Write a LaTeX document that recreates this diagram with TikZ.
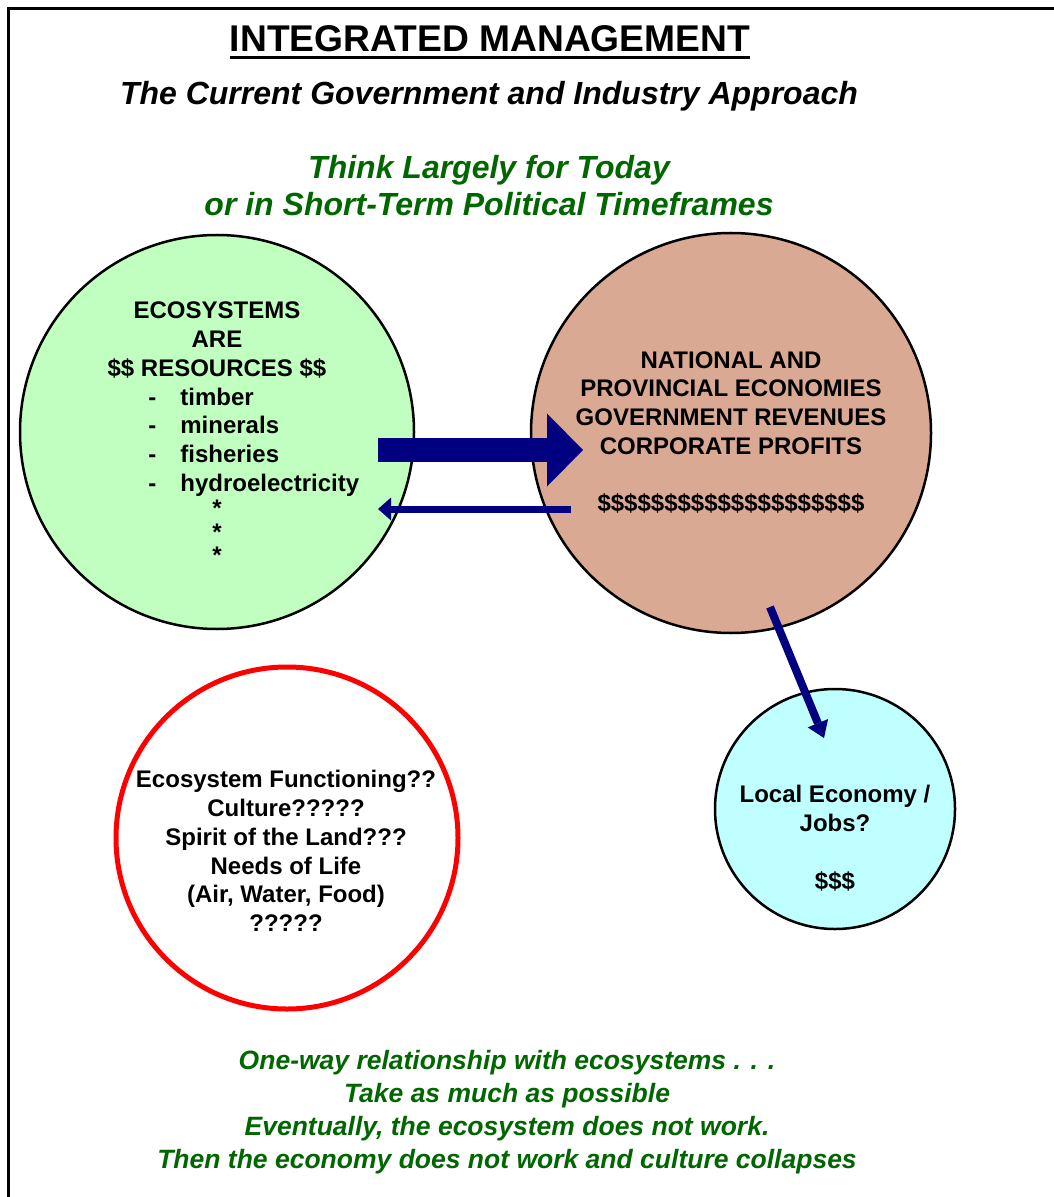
\documentclass[tikz,border=0pt]{standalone}
\usepackage{fontspec}
\setmainfont{Liberation Sans}
\usetikzlibrary{positioning, arrows.meta}
\definecolor{resgreen}{RGB}{192,255,192}
\definecolor{profitbrown}{RGB}{217,169,148}
\definecolor{jobcyan}{RGB}{192,255,255}
\definecolor{flownavy}{RGB}{0,0,128}
\definecolor{notegreen}{RGB}{0,102,0}
\definecolor{alarmred}{RGB}{255,0,0}
\tikzset{
    x=0.5pt, y=-0.5pt, % one unit is one pixel of the reference, y runs down
    pool/.style={circle, draw, line width=1.25pt, inner sep=0pt}, % the four round shapes
    caption/.style={inner sep=0pt, align=center, font=\bfseries\fontsize{12}{14.4}\selectfont}, % black text in the circles
    remark/.style={inner sep=0pt, align=center, text=notegreen, font=\bfseries\itshape\fontsize{16}{18.5}\selectfont}, % green comments
    flow/.style={draw=flownavy, fill=flownavy}, % the navy arrows
}

\begin{document}
\begin{tikzpicture}
    \useasboundingbox (0,0) rectangle (1053,1197);
    \draw[line width=1.5pt] (8,1220) |- (1080,9); % page frame

    \node[inner sep=0pt, anchor=base, font=\bfseries\fontsize{18.6}{22}\selectfont] (title) at (490,52) {INTEGRATED MANAGEMENT};
    \draw[line width=1.5pt] ([yshift=-3pt]title.base west) -- ([yshift=-3pt]title.base east);
    \node[inner sep=0pt, anchor=base, font=\bfseries\itshape\fontsize{16}{19}\selectfont] (approach) at (489,105) {The Current Government and Industry Approach};
    \node[remark] (today) at (489,186) {Think Largely for Today\\or in Short-Term Political Timeframes};

    \node[pool, fill=resgreen, minimum size=197pt] (eco) at (217,432) {};
    \node[pool, fill=profitbrown, minimum size=200pt] (econ) at (731,433) {};
    \node[pool, draw=alarmred, line width=2.5pt, minimum size=171pt] (needs) at (287,838) {};
    \node[pool, fill=jobcyan, minimum size=120pt] (jobs) at (835,809) {};

    \node[caption] (ecohead) at (217,340) {ECOSYSTEMS\\ARE\\\$\$ RESOURCES \$\$};
    \node[caption, align=left, anchor=west] (ecolist) at (148,442) {\makebox[16pt][l]{-}timber\\\makebox[16pt][l]{-}minerals\\\makebox[16pt][l]{-}fisheries\\\makebox[16pt][l]{-}hydroelectricity};
    \node[caption, font=\bfseries\fontsize{12}{11.75}\selectfont] (ecomore) at (217,532) {*\\*\\*};

    \node[caption] (econhead) at (731,403) {NATIONAL AND\\PROVINCIAL ECONOMIES\\GOVERNMENT REVENUES\\CORPORATE PROFITS};
    \node[caption, anchor=base] (econcash) at (731,511) {\$\$\$\$\$\$\$\$\$\$\$\$\$\$\$\$\$\$\$\$};

    \node[caption] (needstext) at (286,851) {Ecosystem Functioning??\\Culture?????\\Spirit of the Land???\\Needs of Life\\(Air, Water, Food)\\?????};
    \node[caption] (jobstext) at (835,838) {Local Economy /\\Jobs?\\[14.5pt]\$\$\$};

    \node[remark, font=\bfseries\itshape\fontsize{13.25}{16.5}\selectfont] (outcome) at (507,1112) {One-way relationship with ecosystems . . .\\Take as much as possible\\Eventually, the ecosystem does not work.\\Then the economy does not work and culture collapses};

    \coordinate (takefrom) at (378,450);
    \coordinate (taketo) at (583,450);
    \coordinate (givefrom) at (571,509);
    \coordinate (giveto) at (378,509);
    \coordinate (tricklefrom) at (770,607);
    \coordinate (trickleto) at (824,738);
    \draw[flow, line width=12pt, -{Triangle[length=18pt, width=36.5pt, line width=0pt]}] (takefrom) -- (taketo);
    \draw[flow, line width=3.5pt, -{Triangle[length=6.5pt, width=11.5pt, line width=0pt]}] (givefrom) -- (giveto);
    \draw[flow, line width=4pt, -{Triangle[length=8pt, width=11pt, line width=0pt]}] (tricklefrom) -- (trickleto);
\end{tikzpicture}
\end{document}
